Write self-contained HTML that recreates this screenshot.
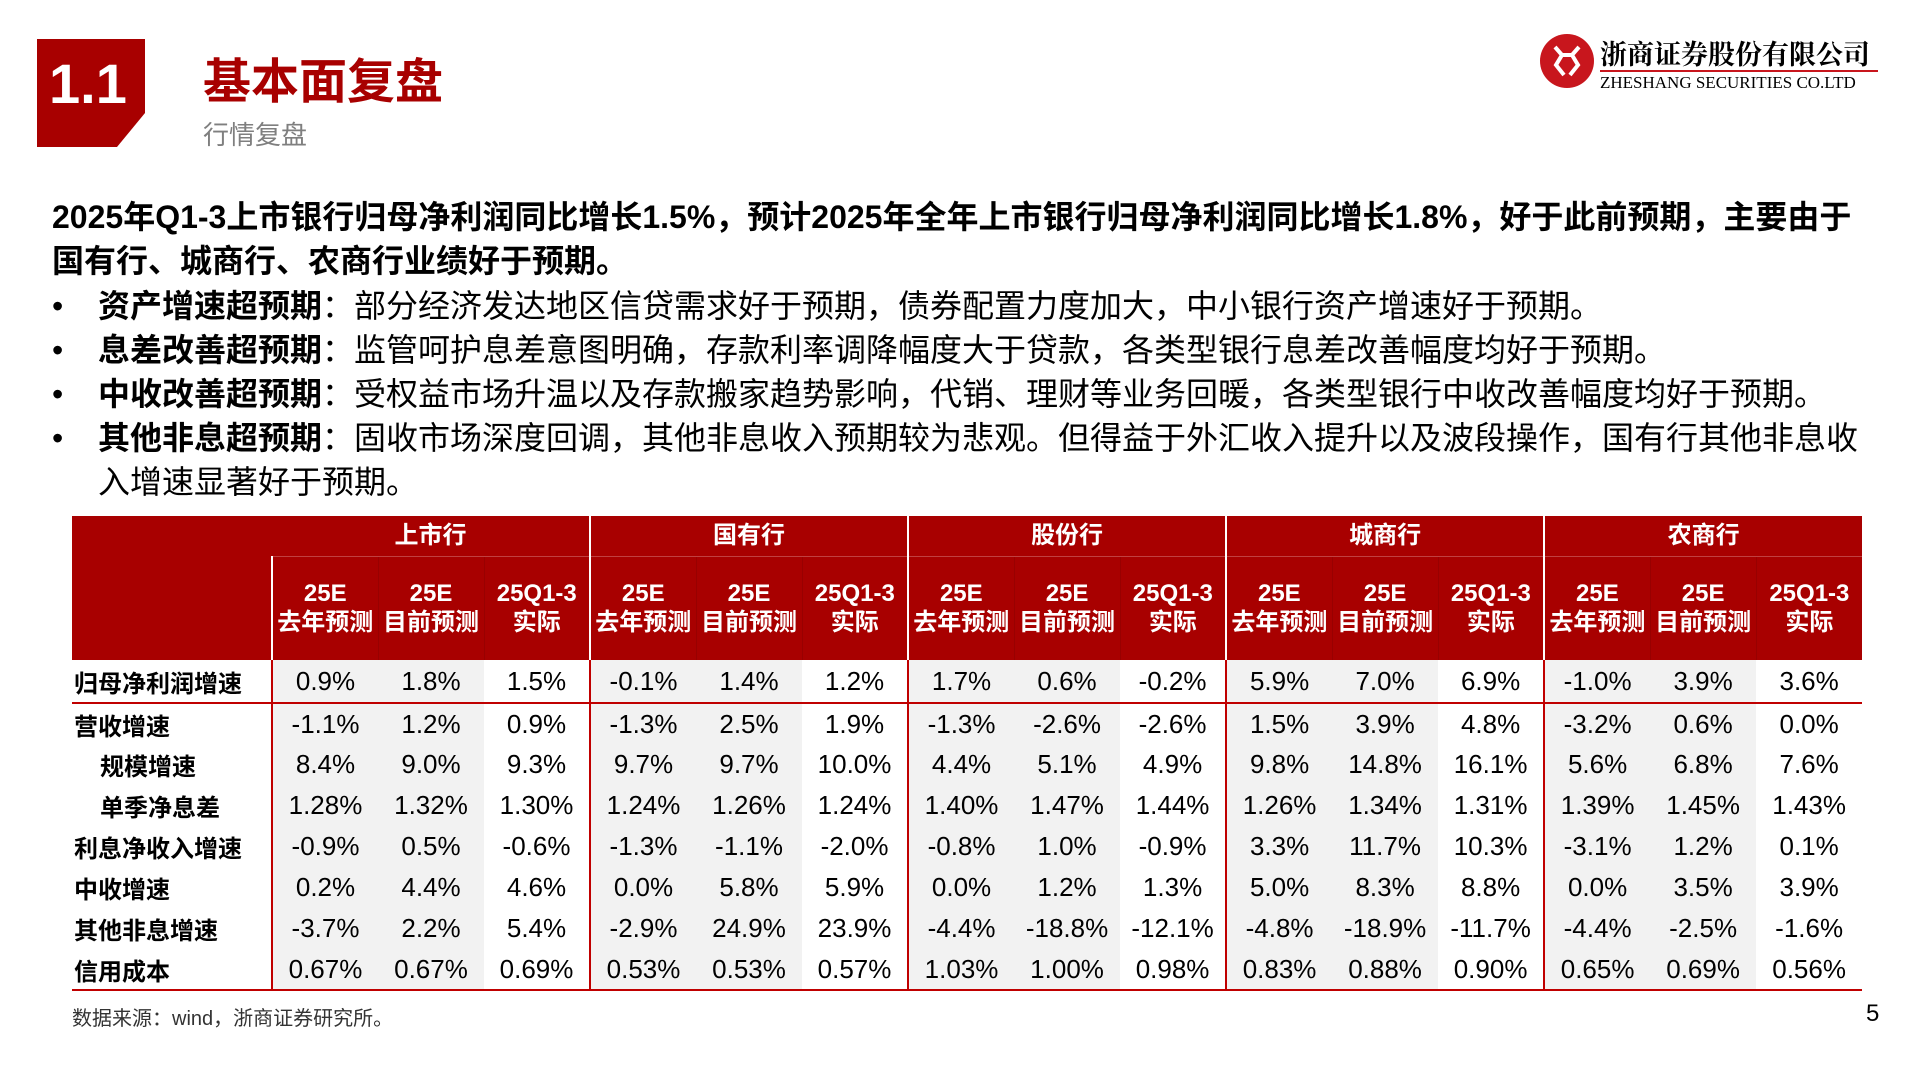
<!DOCTYPE html>
<html><head><meta charset="utf-8">
<style>
*{margin:0;padding:0;box-sizing:border-box}
body{width:1920px;height:1080px;background:#fff;position:relative;overflow:hidden;font-family:"Liberation Sans","Noto Sans CJK SC",sans-serif;color:#000}
.abs{position:absolute}
.para{left:52px;width:1860px;font-size:32px;line-height:44px;white-space:nowrap}
.bl{position:absolute;left:52px;font-size:32px;line-height:44px;white-space:nowrap}
.bl .dot{position:absolute;left:0;width:40px}
.bl .tx{position:absolute;left:46px;width:1800px}
table{border-collapse:collapse;table-layout:fixed}
td{text-align:center;vertical-align:middle;font-size:26px;padding:0;white-space:nowrap}
.hd{background:#a80000;color:#fff;font-weight:bold;font-size:24px;line-height:29px}
.lab{text-align:left;font-weight:bold;font-size:24px;padding-left:2px}
.g{background:#f2f2f2}
</style></head><body>
<div class="abs" style="left:37px;top:39px;width:108px;height:108px">
<svg width="108" height="108"><polygon points="0,0 108,0 108,74 80,108 0,108" fill="#a80000"/></svg>
<div class="abs" style="left:12px;top:12px;font-size:56px;font-weight:bold;color:#fff">1.1</div>
</div>
<div class="abs" style="left:203px;top:42px;font-size:48px;font-weight:bold;color:#a80000">基本面复盘</div>
<div class="abs" style="left:203px;top:115px;font-size:26px;color:#7f7f7f">行情复盘</div>
<div class="abs" style="left:1540px;top:33px;width:340px;height:60px">
<svg class="abs" style="left:0;top:0" width="56" height="56"><circle cx="27" cy="28" r="27" fill="#c8161d"/><path d="M15 14 L22 22 L16 32 L24 42 M39 14 L32 22 L38 32 L30 42 M22 22 L32 22" stroke="#fff" stroke-width="4" fill="none"/></svg>
<div class="abs" style="left:60px;top:0px;font-size:27px;font-weight:bold;font-family:'Noto Serif CJK SC',serif;white-space:nowrap">浙商证券股份有限公司</div>
<div class="abs" style="left:60px;top:37px;width:278px;height:2px;background:#c8161d"></div>
<div class="abs" style="left:60px;top:40px;font-size:17px;font-family:'Liberation Serif',serif;white-space:nowrap">ZHESHANG SECURITIES CO.LTD</div>
</div>
<div class="abs para" style="top:195px;font-weight:bold">2025年Q1-3上市银行归母净利润同比增长1.5%，预计2025年全年上市银行归母净利润同比增长1.8%，好于此前预期，主要由于<br>国有行、城商行、农商行业绩好于预期。</div>
<div class="bl" style="top:284px;width:1830px"><span class="dot">•</span><span class="tx"><b>资产增速超预期</b>：部分经济发达地区信贷需求好于预期，债券配置力度加大，中小银行资产增速好于预期。</span></div>
<div class="bl" style="top:328px;width:1830px"><span class="dot">•</span><span class="tx"><b>息差改善超预期</b>：监管呵护息差意图明确，存款利率调降幅度大于贷款，各类型银行息差改善幅度均好于预期。</span></div>
<div class="bl" style="top:372px;width:1830px"><span class="dot">•</span><span class="tx"><b>中收改善超预期</b>：受权益市场升温以及存款搬家趋势影响，代销、理财等业务回暖，各类型银行中收改善幅度均好于预期。</span></div>
<div class="bl" style="top:416px;width:1830px"><span class="dot">•</span><span class="tx"><b>其他非息超预期</b>：固收市场深度回调，其他非息收入预期较为悲观。但得益于外汇收入提升以及波段操作，国有行其他非息收<br>入增速显著好于预期。</span></div>

<table class="abs" id="tbl" style="left:72px;top:516px;width:1790px"></table>
<div class="abs" style="left:72px;top:1002px;font-size:20px;color:#333">数据来源：wind，浙商证券研究所。</div>
<div class="abs" style="left:1866px;top:1000px;font-size:24px">5</div>
<script>
const groups=["上市行","国有行","股份行","城商行","农商行"];
const subHeads=["25E<br>去年预测","25E<br>目前预测","25Q1-3<br>实际"];
const rowLabels=["归母净利润增速","营收增速","规模增速","单季净息差","利息净收入增速","中收增速","其他非息增速","信用成本"];
const indent=[false,false,true,true,false,false,false,false];
const values=[
["0.9%","1.8%","1.5%","-0.1%","1.4%","1.2%","1.7%","0.6%","-0.2%","5.9%","7.0%","6.9%","-1.0%","3.9%","3.6%"],
["-1.1%","1.2%","0.9%","-1.3%","2.5%","1.9%","-1.3%","-2.6%","-2.6%","1.5%","3.9%","4.8%","-3.2%","0.6%","0.0%"],
["8.4%","9.0%","9.3%","9.7%","9.7%","10.0%","4.4%","5.1%","4.9%","9.8%","14.8%","16.1%","5.6%","6.8%","7.6%"],
["1.28%","1.32%","1.30%","1.24%","1.26%","1.24%","1.40%","1.47%","1.44%","1.26%","1.34%","1.31%","1.39%","1.45%","1.43%"],
["-0.9%","0.5%","-0.6%","-1.3%","-1.1%","-2.0%","-0.8%","1.0%","-0.9%","3.3%","11.7%","10.3%","-3.1%","1.2%","0.1%"],
["0.2%","4.4%","4.6%","0.0%","5.8%","5.9%","0.0%","1.2%","1.3%","5.0%","8.3%","8.8%","0.0%","3.5%","3.9%"],
["-3.7%","2.2%","5.4%","-2.9%","24.9%","23.9%","-4.4%","-18.8%","-12.1%","-4.8%","-18.9%","-11.7%","-4.4%","-2.5%","-1.6%"],
["0.67%","0.67%","0.69%","0.53%","0.53%","0.57%","1.03%","1.00%","0.98%","0.83%","0.88%","0.90%","0.65%","0.69%","0.56%"]
];
const t=document.getElementById('tbl');
let cg='<colgroup><col style="width:200px">';for(let i=0;i<15;i++)cg+='<col style="width:106px">';cg+='</colgroup>';
let h='<tr style="height:40px"><td class="hd" rowspan="2"></td>';
groups.forEach((g,i)=>{h+='<td class="hd" colspan="3" style="border-bottom:1px solid #c04040;'+(i>0?'border-left:2px solid #fff':'')+'">'+g+'</td>';});
h+='</tr><tr style="height:104px">';
for(let i=0;i<15;i++){h+='<td class="hd" style="'+(i%3==0?'border-left:2px solid #fff':'border-left:1px solid #980000')+'">'+subHeads[i%3]+'</td>';}
h+='</tr>';
rowLabels.forEach((lab,r)=>{
  h+='<tr style="height:'+(r==0?43:41)+'px;'+(r==0||r==7?'border-bottom:2px solid #c00000':'')+'"><td class="lab" style="'+(indent[r]?'padding-left:28px':'')+'">'+lab+'</td>';
  values[r].forEach((v,c)=>{h+='<td class="'+(c%3<2?'g':'')+'" style="'+(c%3==0?'border-left:2px solid #c00000':'')+'">'+v+'</td>';});
  h+='</tr>';
});
t.innerHTML=cg+h;
</script>
</body></html>
